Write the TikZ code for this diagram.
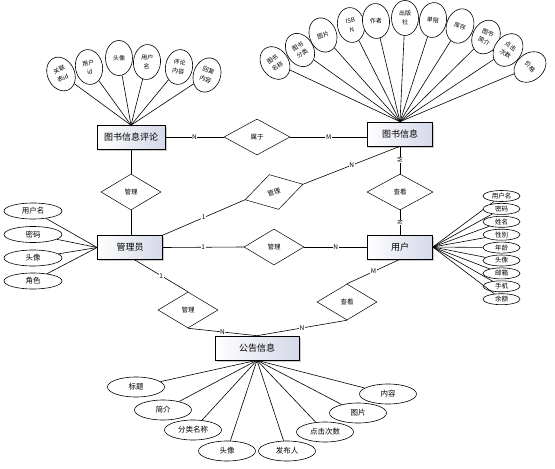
\documentclass[tikz,border=0pt]{standalone}
\usepackage{fontspec}
\setmainfont{Noto Sans CJK SC}
\usetikzlibrary{shapes.geometric,shadows}
\definecolor{boxfill}{RGB}{212,216,232}
\begin{document}
\begin{tikzpicture}[x=1pt,y=-1pt,
  entity/.style={draw, rectangle, minimum height=24pt, inner sep=0pt,
    left color=white, right color=boxfill, line width=0.6pt,
    drop shadow={shadow xshift=1.5pt,shadow yshift=-1.5pt,fill=gray!70,opacity=0.6},
    font=\fontsize{9}{10}\selectfont},
  rel/.style={draw, diamond, minimum width=60pt, minimum height=36pt, inner sep=0pt,
    fill=white, line width=0.5pt, font=\fontsize{6.5}{7}\selectfont},
  attrV/.style={draw, ellipse, minimum width=27pt, minimum height=35pt, inner sep=0pt,
    fill=white, line width=0.6pt, align=center, font=\fontsize{6}{9}\selectfont},
  attrS/.style={draw, ellipse, minimum width=37pt, minimum height=11pt, inner sep=0pt,
    fill=white, line width=0.6pt, font=\fontsize{6.5}{7}\selectfont},
  attrL/.style={draw, ellipse, minimum width=58pt, minimum height=16pt, inner sep=0pt,
    fill=white, line width=0.6pt, font=\fontsize{7.5}{8}\selectfont},
  attrB/.style={draw, ellipse, minimum width=57pt, minimum height=20pt, inner sep=0pt,
    fill=white, line width=0.6pt, font=\fontsize{7.5}{8}\selectfont},
  lbl/.style={fill=white, inner sep=0.6pt, font=\fontsize{6.5}{7}\selectfont},
  conn/.style={line width=0.6pt}
]
\useasboundingbox (0,0) rectangle (555,469);

% entities
\node[entity, minimum width=68pt] (cmt) at (131,137.5) {图书信息评论};
\node[entity, minimum width=65pt] (book) at (400,134) {图书信息};
\node[entity, minimum width=65pt] (mgr) at (130,247.5) {管理员};
\node[entity, minimum width=65pt] (user) at (400,247) {用户};
\node[entity, minimum width=84pt] (notice) at (257,348) {公告信息};

% relations
\node[rel, minimum width=66pt] (belong) at (257,137) {属于};
\node[rel] (mg1) at (131,192) {管理};
\node[rel, rotate=15] (mg2) at (274,192) {管理};
\node[rel] (mg3) at (274,247) {管理};
\node[rel, minimum width=66pt] (view1) at (400,192) {查看};
\node[rel] (mg4) at (188,310) {管理};
\node[rel] (view2) at (347,302) {查看};

% relation connectors
\draw[conn] (cmt.east |- belong.west) -- node[lbl]{N} (belong.west);
\draw[conn] (belong.east) -- node[lbl]{M} (belong.east -| book.west);
\draw[conn] (cmt.south -| mg1.north) -- (mg1.north);
\draw[conn] (mg1.south) -- (mg1.south |- mgr.north);
\draw[conn] (mgr.north east) -- node[lbl]{1} (mg2.west);
\draw[conn] (mg2.east) -- node[lbl]{N} (book.south);
\draw[conn] (mgr.east) -- node[lbl]{1} (mg3.west);
\draw[conn] (mg3.east) -- node[lbl]{N} (mg3.east -| user.west);
\draw[conn] (book.south) -- node[lbl, rotate=90]{M} (view1.north);
\draw[conn] (view1.south) -- node[lbl, rotate=90]{N} (user.north);
\draw[conn] (mgr.-70) -- node[lbl]{1} (mg4.north);
\draw[conn] (mg4.south) -- node[lbl]{N} (notice.north);
\draw[conn] (user.south) -- node[lbl]{M} (view2.north);
\draw[conn] (view2.south) -- node[lbl]{N} (notice.north);

% attributes of 图书信息评论
\foreach \n/\x/\y/\r/\t in {c1/61/74/25/{关联\\表id}, c2/89/67/10/{用户\\id}, c3/119/58/0/{头像},
    c4/147/62/-5/{用户\\名}, c5/179/67/-10/{评论\\内容}, c6/207/75/-20/{回复\\内容}}{
  \node[attrV, rotate=\r] (\n) at (\x,\y) {\t};
  \draw[conn] (cmt.north) -- (\n);
}

% attributes of 图书信息
\foreach \n/\x/\y/\r/\t in {b1/275/63/35/{图书\\名称}, b2/300/50/30/{图书\\分类}, b3/323/35/20/{图片},
    b4/351/25/10/{ISB\\N}, b5/376/21/5/{作者}, b6/405/18/0/{出版\\社}, b7/433/20/-8/{单限},
    b8/460/26/-18/{库存}, b9/486/37/-25/{图书\\简介}, b10/508/50/-35/{点击\\次数}, b11/530/67/-50/{价格}}{
  \node[attrV, rotate=\r] (\n) at (\x,\y) {\t};
  \draw[conn] (book.north) -- (\n);
}

% attributes of 用户
\foreach \n/\i/\t in {u1/0/用户名, u2/1/密码, u3/2/姓名, u4/3/性别, u5/4/年龄, u6/5/头像,
    u7/6/邮箱, u8/7/手机, u9/8/余额}{
  \node[attrS] (\n) at (501.5,196+12.9*\i) {\t};
  \draw[conn] (user.east) -- (\n);
}

% attributes of 管理员
\foreach \n/\y/\t in {m1/211/用户名, m2/234.5/密码, m3/258/头像, m4/281/角色}{
  \node[attrL] (\n) at (33,\y) {\t};
  \draw[conn] (mgr.west) -- (\n);
}

% attributes of 公告信息
\foreach \n/\x/\y/\t in {n1/136/387/标题, n2/163/410/简介, n3/193/430/分类名称, n4/227/451/头像,
    n5/287/451/发布人, n6/325/432/点击次数, n7/358/413/图片, n8/388/394/内容}{
  \node[attrB] (\n) at (\x,\y) {\t};
  \draw[conn] (notice.south) -- (\n);
}
\end{tikzpicture}
\end{document}
